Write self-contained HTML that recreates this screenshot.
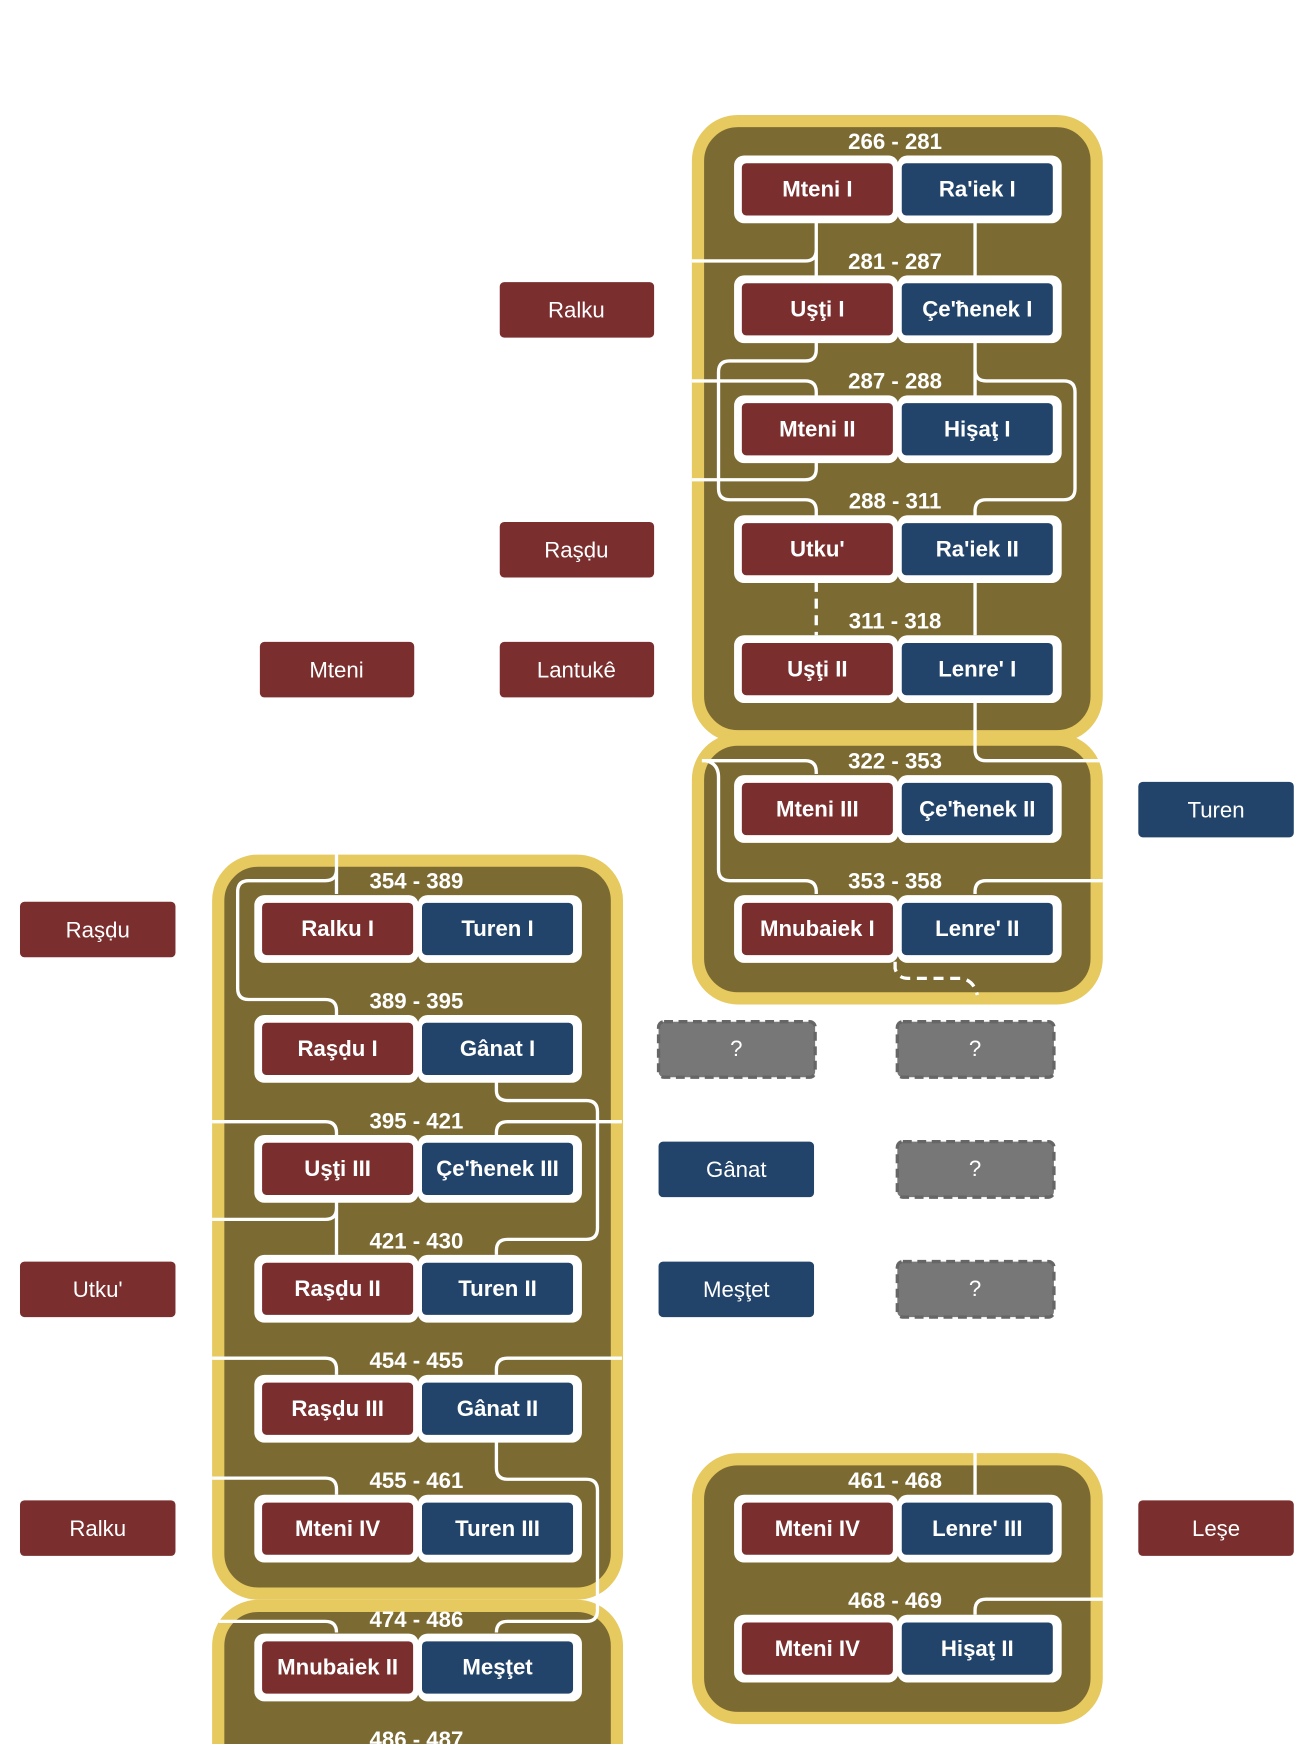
<!DOCTYPE html>
<html><head><meta charset="utf-8"><style>html,body{margin:0;padding:0;background:#fff}svg{display:block}</style></head>
<body>
<svg width="1316" height="1744" viewBox="0 0 1185 1570.4" xmlns="http://www.w3.org/2000/svg" font-family="Liberation Sans, sans-serif">
<defs>
<g id="pw"><rect x="0" y="-30" width="148" height="61" rx="9" fill="#fff"/><rect x="147" y="-30" width="148" height="61" rx="9" fill="#fff"/></g>
</defs>
<!-- groups -->
<g fill="#7c6a33" stroke="#e6c95f" stroke-width="11">
<rect x="628.5" y="109" width="359" height="554" rx="36"/>
<rect x="628.5" y="666" width="359" height="233" rx="36"/>
<rect x="196.5" y="775" width="359" height="660" rx="36"/>
<rect x="196.5" y="1446" width="359" height="200" rx="36"/>
<rect x="628.5" y="1314" width="359" height="233" rx="36"/>
</g>
<!-- connectors -->
<g fill="none" stroke="#fff" stroke-width="3">
<path d="M735,200 V249 M735,215 V225 Q735,235 725,235 H623"/>
<path d="M878,200 V249"/>
<path d="M735,308 V315 Q735,325 725,325 H657 Q647,325 647,335 V440 Q647,450 657,450 H725 Q735,450 735,460 V465"/>
<path d="M623,343 H725 Q735,343 735,353 V357"/>
<path d="M735,416 V422 Q735,432 725,432 H623"/>
<path d="M878,308 V357 M878,320 V333 Q878,343 888,343 H958 Q968,343 968,353 V440 Q968,450 958,450 H888 Q878,450 878,460 V465"/>
<path d="M878,524 V572"/>
<path d="M878,632 V675 Q878,685 888,685 H993"/>
<path d="M632,685 H725 Q735,685 735,695 V697 M635,685 Q647,687 647,700 V783 Q647,793 657,793 H725 Q735,793 735,803 V805"/>
<path d="M993,793 H888 Q878,793 878,803 V805"/>
<path d="M806,866 V872 Q808,881 818,881 H866 Q877,883 880,896" stroke-dasharray="9,6"/>
<path d="M735,524 V572" stroke-dasharray="9,6"/>
<!-- group C -->
<path d="M303,769 V805 M303,770 V783 Q303,793 293,793 H224 Q214,793 214,803 V890 Q214,900 224,900 H293 Q303,900 303,910 V914"/>
<path d="M447,974 V982 Q447,991 457,991 H528 Q538,991 538,1001 V1106 Q538,1116 528,1116 H457 Q447,1116 447,1126 V1130"/>
<path d="M191,1010 H293 Q303,1010 303,1020 V1022"/>
<path d="M560,1010 H457 Q447,1010 447,1020 V1022"/>
<path d="M303,1082 V1130 M303,1085 V1088 Q303,1098 293,1098 H191"/>
<path d="M191,1223 H293 Q303,1223 303,1233 V1238"/>
<path d="M560,1223 H457 Q447,1223 447,1233 V1238"/>
<path d="M447,1298 V1322 Q447,1332 457,1332 H528 Q538,1332 538,1342 V1450 Q538,1460 528,1460 H457 Q447,1460 447,1470"/>
<path d="M191,1331 H293 Q303,1331 303,1341 V1346"/>
<path d="M197,1460 H293 Q303,1460 303,1470"/>
<path d="M878,1308 V1346"/>
<path d="M993,1440 H888 Q878,1440 878,1450 V1454"/>
</g>
<!-- pairs -->
<g>
<use href="#pw" x="661" y="170"/><use href="#pw" x="661" y="278"/><use href="#pw" x="661" y="386"/><use href="#pw" x="661" y="494"/><use href="#pw" x="661" y="602"/>
<use href="#pw" x="661" y="728"/><use href="#pw" x="661" y="836"/>
<use href="#pw" x="229" y="836"/><use href="#pw" x="229" y="944"/><use href="#pw" x="229" y="1052"/><use href="#pw" x="229" y="1160"/><use href="#pw" x="229" y="1268"/><use href="#pw" x="229" y="1376"/><use href="#pw" x="229" y="1501"/>
<use href="#pw" x="661" y="1376"/><use href="#pw" x="661" y="1484"/>
</g>
<g>
<!-- red / blue inner -->
<g fill="#7a2e2e">
<rect x="668" y="147" width="136" height="47" rx="4"/><rect x="668" y="255" width="136" height="47" rx="4"/><rect x="668" y="363" width="136" height="47" rx="4"/><rect x="668" y="471" width="136" height="47" rx="4"/><rect x="668" y="579" width="136" height="47" rx="4"/><rect x="668" y="705" width="136" height="47" rx="4"/><rect x="668" y="813" width="136" height="47" rx="4"/>
<rect x="236" y="813" width="136" height="47" rx="4"/><rect x="236" y="921" width="136" height="47" rx="4"/><rect x="236" y="1029" width="136" height="47" rx="4"/><rect x="236" y="1137" width="136" height="47" rx="4"/><rect x="236" y="1245" width="136" height="47" rx="4"/><rect x="236" y="1353" width="136" height="47" rx="4"/><rect x="236" y="1478" width="136" height="47" rx="4"/>
<rect x="668" y="1353" width="136" height="47" rx="4"/><rect x="668" y="1461" width="136" height="47" rx="4"/>
</g>
<g fill="#22446a">
<rect x="812" y="147" width="136" height="47" rx="4"/><rect x="812" y="255" width="136" height="47" rx="4"/><rect x="812" y="363" width="136" height="47" rx="4"/><rect x="812" y="471" width="136" height="47" rx="4"/><rect x="812" y="579" width="136" height="47" rx="4"/><rect x="812" y="705" width="136" height="47" rx="4"/><rect x="812" y="813" width="136" height="47" rx="4"/>
<rect x="380" y="813" width="136" height="47" rx="4"/><rect x="380" y="921" width="136" height="47" rx="4"/><rect x="380" y="1029" width="136" height="47" rx="4"/><rect x="380" y="1137" width="136" height="47" rx="4"/><rect x="380" y="1245" width="136" height="47" rx="4"/><rect x="380" y="1353" width="136" height="47" rx="4"/><rect x="380" y="1478" width="136" height="47" rx="4"/>
<rect x="812" y="1353" width="136" height="47" rx="4"/><rect x="812" y="1461" width="136" height="47" rx="4"/>
</g>
</g>
<!-- pair text -->
<g fill="#fff" font-weight="bold" font-size="20" text-anchor="middle">
<text x="736" y="177">Mteni I</text><text x="880" y="177">Ra'iek I</text>
<text x="736" y="285">Uşţi I</text><text x="880" y="285">Çe'ħenek I</text>
<text x="736" y="393">Mteni II</text><text x="880" y="393">Hişaţ I</text>
<text x="736" y="501">Utku'</text><text x="880" y="501">Ra'iek II</text>
<text x="736" y="609">Uşţi II</text><text x="880" y="609">Lenre' I</text>
<text x="736" y="735">Mteni III</text><text x="880" y="735">Çe'ħenek II</text>
<text x="736" y="843">Mnubaiek I</text><text x="880" y="843">Lenre' II</text>
<text x="304" y="843">Ralku I</text><text x="448" y="843">Turen I</text>
<text x="304" y="951">Raşḍu I</text><text x="448" y="951">Gânat I</text>
<text x="304" y="1059">Uşţi III</text><text x="448" y="1059">Çe'ħenek III</text>
<text x="304" y="1167">Raşḍu II</text><text x="448" y="1167">Turen II</text>
<text x="304" y="1275">Raşḍu III</text><text x="448" y="1275">Gânat II</text>
<text x="304" y="1383">Mteni IV</text><text x="448" y="1383">Turen III</text>
<text x="304" y="1508">Mnubaiek II</text><text x="448" y="1508">Meşţet</text>
<text x="736" y="1383">Mteni IV</text><text x="880" y="1383">Lenre' III</text>
<text x="736" y="1491">Mteni IV</text><text x="880" y="1491">Hişaţ II</text>
<!-- date labels -->
<text x="806" y="134">266 - 281</text><text x="806" y="242">281 - 287</text><text x="806" y="350">287 - 288</text><text x="806" y="458">288 - 311</text><text x="806" y="566">311 - 318</text>
<text x="806" y="692">322 - 353</text><text x="806" y="800">353 - 358</text>
<text x="375" y="800">354 - 389</text><text x="375" y="908">389 - 395</text><text x="375" y="1016">395 - 421</text><text x="375" y="1124">421 - 430</text><text x="375" y="1232">454 - 455</text><text x="375" y="1340">455 - 461</text><text x="375" y="1465">474 - 486</text><text x="375" y="1573">486 - 487</text>
<text x="806" y="1340">461 - 468</text><text x="806" y="1448">468 - 469</text>
</g>
<!-- outside boxes -->
<g fill="#7a2e2e">
<rect x="450" y="254" width="139" height="50" rx="4"/><rect x="450" y="470" width="139" height="50" rx="4"/><rect x="234" y="578" width="139" height="50" rx="4"/><rect x="450" y="578" width="139" height="50" rx="4"/>
<rect x="18" y="812" width="140" height="50" rx="4"/><rect x="18" y="1136" width="140" height="50" rx="4"/><rect x="18" y="1351" width="140" height="50" rx="4"/><rect x="1025" y="1351" width="140" height="50" rx="4"/>
</g>
<g fill="#22446a">
<rect x="1025" y="704" width="140" height="50" rx="4"/><rect x="593" y="1028" width="140" height="50" rx="4"/><rect x="593" y="1136" width="140" height="50" rx="4"/>
</g>
<g fill="#777" stroke="#666" stroke-width="3" stroke-dasharray="8,5">
<rect x="593" y="920" width="141" height="50" rx="5"/><rect x="808" y="920" width="141" height="50" rx="5"/><rect x="808" y="1028" width="141" height="50" rx="5"/><rect x="808" y="1136" width="141" height="50" rx="5"/>
</g>
<g fill="#fff" font-size="20" text-anchor="middle">
<text x="519" y="286">Ralku</text><text x="519" y="502">Raşḍu</text><text x="303" y="610">Mteni</text><text x="519" y="610">Lantukê</text>
<text x="88" y="844">Raşḍu</text><text x="88" y="1168">Utku'</text><text x="88" y="1383">Ralku</text><text x="1095" y="1383">Leşe</text>
<text x="1095" y="736">Turen</text><text x="663" y="1060">Gânat</text><text x="663" y="1168">Meşţet</text>
<text x="663" y="951">?</text><text x="878" y="951">?</text><text x="878" y="1059">?</text><text x="878" y="1167">?</text>
</g>
</svg>
</body></html>
